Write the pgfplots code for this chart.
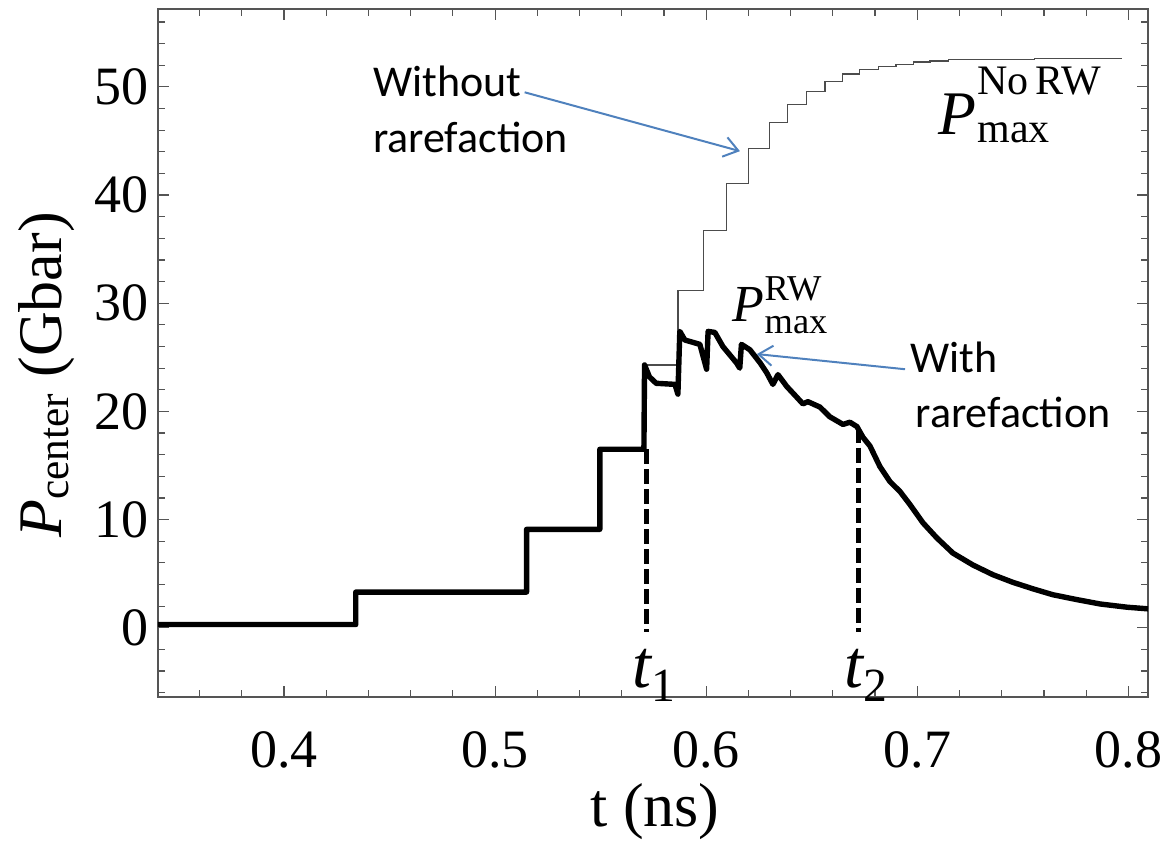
\documentclass[border=0pt]{standalone}
\usepackage{amsmath}
\usepackage{fontspec}
\setmainfont{Liberation Serif}
\newfontfamily\calibri{Carlito}
\usepackage{pgfplots}
\pgfplotsset{compat=1.18}
\usetikzlibrary{arrows.meta}
\definecolor{arrowblue}{RGB}{79,129,189}
\definecolor{axgray}{RGB}{85,85,85}
\begin{document}
\begin{tikzpicture}
\begin{axis}[
  at={(0,0)}, anchor=south west,
  scale only axis, width=495pt, height=344pt,
  xmin=0.3403, xmax=0.8093, ymin=-6.4, ymax=57.2,
  xtick={0.4,0.5,0.6,0.7,0.8}, ytick={0,10,20,30,40,50},
  minor xtick={0.34,0.36,0.38,0.42,0.44,0.46,0.48,0.52,0.54,0.56,0.58,0.62,0.64,0.66,0.68,0.72,0.74,0.76,0.78},
  minor ytick={-6,-4,-2,2,4,6,8,12,14,16,18,22,24,26,28,32,34,36,38,42,44,46,48,52,54,56},
  tick align=inside, major tick length=5.5pt, minor tick length=3.5pt,
  every tick/.style={axgray, line width=0.6pt},
  axis line style={axgray, line width=0.8pt},
  /pgf/number format/assume math mode=true,
  tick label style={font=\fontsize{27}{30}\selectfont},
  xticklabel style={anchor=base, yshift=-35pt},
  yticklabel style={xshift=-1pt},
  xlabel={t (ns)},
  xlabel style={font=\fontsize{31}{34}\selectfont, at={(axis description cs:0.502,-0.167)}, anchor=center},
  ylabel={$\textit{P}_{\textrm{center}}$ (Gbar)},
  ylabel style={font=\fontsize{31}{34}\selectfont, at={(axis description cs:-0.113,0.468)}, anchor=center},
  clip=false,
]
% without rarefaction (thin)
\addplot[black!70, line width=0.6pt] coordinates {
(0.3403,0.3) (0.4340,0.3) (0.4340,3.3) (0.5149,3.3) (0.5149,9.1) (0.5496,9.1) (0.5496,16.5) (0.5705,16.5) (0.5705,24.3)
(0.5866,24.3) (0.5866,31.2) (0.5989,31.2) (0.5989,36.7) (0.6097,36.7) (0.6097,41.1) (0.6199,41.1) (0.6199,44.3)
(0.6299,44.3) (0.6299,46.7) (0.6386,46.7) (0.6386,48.4) (0.6476,48.4) (0.6476,49.6) (0.6563,49.6) (0.6563,50.5)
(0.6646,50.5) (0.6646,51.2) (0.6728,51.2) (0.6728,51.6) (0.6815,51.6) (0.6815,51.9) (0.6899,51.9) (0.6899,52.1)
(0.6981,52.1) (0.6981,52.3) (0.7060,52.3) (0.7060,52.4) (0.7147,52.4) (0.7147,52.5) (0.7390,52.5) (0.7390,52.55)
(0.7557,52.55) (0.7557,52.6) (0.7970,52.6)
};
% with rarefaction (thick)
\addplot[black, line width=2.7pt, line join=round] coordinates {
(0.3403,0.3) (0.4340,0.3) (0.4340,3.3) (0.5149,3.3) (0.5149,9.1) (0.5496,9.1) (0.5496,16.5) (0.5705,16.5)
(0.5708,24.3) (0.5731,23.2) (0.5763,22.6) (0.5852,22.5) (0.5866,21.6) (0.5875,27.4) (0.5899,26.6) (0.5970,26.2)
(0.6002,23.9) (0.6009,27.4) (0.6041,27.3) (0.6079,26.0) (0.6143,24.5) (0.6159,24.0) (0.6167,26.2) (0.6207,25.7)
(0.6255,24.5) (0.6286,23.6) (0.6316,22.5) (0.6340,23.4) (0.6382,22.3) (0.6425,21.4) (0.6458,20.7) (0.6482,20.9)
(0.6539,20.4) (0.6586,19.5) (0.6648,18.8) (0.6681,19.0) (0.6714,18.6) (0.6743,17.6) (0.6776,16.8) (0.6823,14.9)
(0.6871,13.5) (0.6918,12.6) (0.6965,11.4) (0.7027,9.7) (0.7093,8.3) (0.7169,6.9) (0.7264,5.8) (0.7359,4.9)
(0.7453,4.2) (0.7548,3.6) (0.7643,3.05) (0.7757,2.6) (0.7866,2.2) (0.7994,1.9) (0.8093,1.75)
};
% t1, t2 dashed markers
\addplot[black, line width=2.4pt, dash pattern=on 7.5pt off 2.5pt] coordinates {(0.5717,16.5) (0.5717,-0.4)};
\addplot[black, line width=2.4pt, dash pattern=on 7.5pt off 2.5pt] coordinates {(0.6720,18.5) (0.6720,-0.4)};
% annotations
\draw[arrowblue, line width=1pt, -{Straight Barb[length=7pt,width=10pt]}] (axis cs:0.5140,49.5) -- (axis cs:0.6160,44.06);
\draw[arrowblue, line width=1pt, -{Straight Barb[length=7pt,width=10pt]}] (axis cs:0.6942,23.9) -- (axis cs:0.6240,25.3);
\node[anchor=base west, inner sep=0, font=\calibri\fontsize{22}{26}\selectfont] at (axis cs:0.4420,49.15) {Without};
\node[anchor=base west, inner sep=0, font=\calibri\fontsize{22}{26}\selectfont] at (axis cs:0.4420,43.9) {rarefaction};
\node[anchor=base west, inner sep=0, font=\calibri\fontsize{22}{26}\selectfont] at (axis cs:0.6966,23.6) {With};
\node[anchor=base west, inner sep=0, font=\calibri\fontsize{22}{26}\selectfont] at (axis cs:0.6990,18.5) {rarefaction};
\node[anchor=base west, inner sep=0, font=\fontsize{26}{30}\selectfont] at (axis cs:0.6125,28.3) {$\textit{P}^{\textrm{RW}}_{\textrm{max}}$};
\node[anchor=base west, inner sep=0, font=\itshape\fontsize{31}{34}\selectfont] at (axis cs:0.7098,45.6) {P};
\node[anchor=base west, inner sep=0, font=\fontsize{21}{24}\selectfont] at (axis cs:0.7283,49.3) {No\,RW};
\node[anchor=base west, inner sep=0, font=\fontsize{21}{24}\selectfont] at (axis cs:0.7283,44.9) {max};
\node[anchor=base west, inner sep=0, font=\fontsize{34}{38}\selectfont] at (axis cs:0.5650,-5.52) {$\textit{t}_{\textrm{1}}$};
\node[anchor=base west, inner sep=0, font=\fontsize{34}{38}\selectfont] at (axis cs:0.6652,-5.52) {$\textit{t}_{\textrm{2}}$};
\end{axis}
\pgfresetboundingbox
\useasboundingbox (-79pt,-78pt) rectangle (505.5pt,348.5pt);
\end{tikzpicture}
\end{document}
